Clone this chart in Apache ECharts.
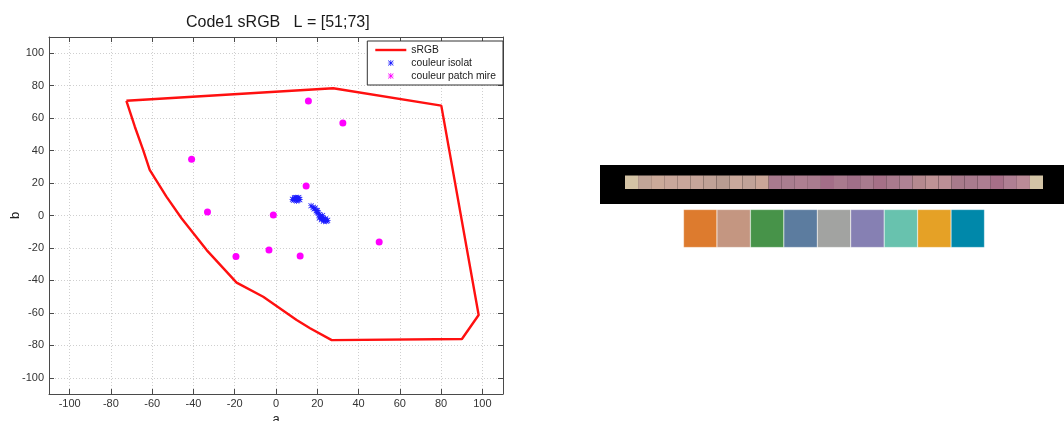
<!DOCTYPE html>
<html><head><meta charset="utf-8">
<script src="https://cdn.jsdelivr.net/npm/echarts@6/dist/echarts.min.js"></script>
<style>html,body{margin:0;padding:0;background:#fff}#c{width:1064px;height:421px}</style>
</head><body><div id="c"></div>
<script>
const titleText = 'Code1 sRGB   L = [51;73]';
const tickValues = [-100, -80, -60, -40, -20, 0, 20, 40, 60, 80, 100];
const legendNames = ['sRGB', 'couleur isolat', 'couleur patch mire'];

// sRGB gamut boundary (a, b)
const srgbGamut = [
  [-72.5, 70.7], [-68.4, 54.7], [-64.4, 40.4], [-61.2, 28.1], [-53.1, 11.6],
  [-45.8, -1.7], [-33.6, -21.3], [-19.1, -41.4], [-6.2, -50.1], [10, -64.4],
  [16.5, -69.5], [27, -76.8], [90.1, -76.1], [98.2, -61.3], [80.1, 67.7],
  [27.7, 78.4], [-72.5, 70.7]
];

// couleur isolat (a, b)
const isolatPoints = [
  [9, 10], [10, 10.5], [10.5, 9.5], [9.5, 11], [11, 10], [8.5, 9.5], [10, 9],
  [11, 11], [9, 10.8], [10.5, 10.7], [8, 10], [11.5, 9.8],
  [17, 6], [18, 5], [18.5, 4], [19.5, 3], [20, 2], [20.5, 1.5], [21, 0.5],
  [21.5, -0.5], [22, -1], [22.5, -1.5], [23, -2], [23.5, -2.5], [24, -3],
  [24.5, -3.5], [25, -3], [22, -2.5], [23, -3.5], [21, -1.5], [24, -2],
  [19, 4.5], [20, 3], [22.5, 0]
];

// couleur patch mire (a, b)
const patchPoints = [
  [15.7, 70.6], [32.4, 57], [-40.9, 34.6], [14.6, 18.2], [-33.2, 2.2],
  [-1.3, 0.3], [-19.4, -25.2], [-3.4, -21.3], [11.7, -25], [50, -16.4]
];

const stripColors = [
  '#D4C3A5', '#C1A598', '#CBAA9A', '#C9A79B', '#C9A69B', '#C6A59A', '#C0A297',
  '#B89C91', '#CAA99C', '#C1A398', '#CAA698',
  '#A87A8E', '#A97D8F', '#AE7F91', '#AA7C8F', '#A36E88', '#A97A8E', '#A06F88',
  '#A87B8E', '#A57087', '#A97A8D', '#AF8294', '#B5898F', '#BF9396', '#BC8F96',
  '#A87A8B', '#A97B8E', '#AD7E92', '#A66F88', '#AF7F93', '#BA8B97',
  '#D3C4A6'
];
const patchColors = ['#DD7B2E', '#C49681', '#479349', '#5C7C9F', '#A2A3A1', '#8680B3', '#68C2AE', '#E5A126', '#0088AA'];

const FONT = 'Liberation Sans, Arial, sans-serif';
const asterisk = 'path://M4.4 0h1.2v10h-1.2z M0 4.4h10v1.2h-10z M1.1 0.25L9.75 8.9L8.9 9.75L0.25 1.1Z M8.9 0.25L9.75 1.1L1.1 9.75L0.25 8.9Z';
const lineIcon = 'path://M0 0h31v2.4h-31z';

const frameAxis = (pos) => ({
  type: 'value', min: -110, max: 110, position: pos, gridIndex: 0,
  axisLine: { show: true, onZero: false, lineStyle: { color: '#4a4a4a', width: 1 } },
  axisTick: { show: true, inside: true, length: 5, customValues: tickValues, lineStyle: { color: '#4a4a4a' } },
  axisLabel: { show: false },
  splitLine: { show: false }
});

const chart = echarts.init(document.getElementById('c'), null, { renderer: 'canvas' });
chart.setOption({
  animation: false,
  backgroundColor: '#fff',
  title: {
    text: titleText, left: 181, top: 10,
    textStyle: { fontFamily: FONT, fontSize: 16, fontWeight: 'normal', color: '#1a1a1a' }
  },
  legend: {
    data: [
      { name: legendNames[0], icon: lineIcon },
      { name: legendNames[1], icon: asterisk },
      { name: legendNames[2], icon: asterisk }
    ],
    orient: 'vertical', right: 561, top: 41,
    itemWidth: 31, itemHeight: 6, itemGap: 3,
    padding: [4, 7, 4, 8],
    backgroundColor: '#fff', borderColor: '#333', borderWidth: 1,
    textStyle: { fontFamily: FONT, fontSize: 10.3, color: '#1a1a1a' }
  },
  grid: [
    { left: 49, right: 561, top: 37, bottom: 27, outerBoundsMode: 'none', containLabel: false },
    { left: 625, width: 418, top: 175.5, height: 13.5, outerBoundsMode: 'none' },
    { left: 683.5, width: 301, top: 209.5, height: 38, outerBoundsMode: 'none' }
  ],
  graphic: [{
    type: 'rect', z: -1, shape: { x: 600, y: 165, width: 464, height: 39 }, style: { fill: '#000' }
  }],
  xAxis: [
    {
      type: 'value', min: -110, max: 110, gridIndex: 0,
      name: 'a', nameLocation: 'middle', nameGap: 19, nameMoveOverlap: false,
      nameTextStyle: { fontFamily: FONT, fontSize: 13, color: '#222' },
      axisLine: { show: true, onZero: false, lineStyle: { color: '#4a4a4a', width: 1 } },
      axisTick: { show: true, inside: true, length: 5, customValues: tickValues, lineStyle: { color: '#4a4a4a' } },
      axisLabel: { customValues: tickValues, margin: 4, fontFamily: FONT, fontSize: 11, color: '#333' },
      splitLine: { show: true, lineStyle: { color: '#cfcfcf', type: [1, 2], width: 1 } }
    },
    frameAxis('top'),
    { type: 'category', gridIndex: 1, data: stripColors.map((c, i) => i), show: false, boundaryGap: true },
    { type: 'category', gridIndex: 2, data: patchColors.map((c, i) => i), show: false, boundaryGap: true }
  ],
  yAxis: [
    {
      type: 'value', min: -110, max: 110, gridIndex: 0,
      name: 'b', nameLocation: 'middle', nameGap: 27, nameRotate: 90, nameMoveOverlap: false,
      nameTextStyle: { fontFamily: FONT, fontSize: 13, color: '#222' },
      axisLine: { show: true, onZero: false, lineStyle: { color: '#4a4a4a', width: 1 } },
      axisTick: { show: true, inside: true, length: 5, customValues: tickValues, lineStyle: { color: '#4a4a4a' } },
      axisLabel: { customValues: tickValues, margin: 5, fontFamily: FONT, fontSize: 11, color: '#333' },
      splitLine: { show: true, lineStyle: { color: '#cfcfcf', type: [1, 2], width: 1 } }
    },
    frameAxis('right'),
    { type: 'value', gridIndex: 1, min: 0, max: 1, show: false },
    { type: 'value', gridIndex: 2, min: 0, max: 1, show: false }
  ],
  series: [
    {
      name: legendNames[0], type: 'line', xAxisIndex: 0, yAxisIndex: 0,
      data: srgbGamut, symbol: 'none', smooth: false,
      lineStyle: { color: '#ff1010', width: 2.4 }, itemStyle: { color: '#ff1010' }, z: 3
    },
    {
      name: legendNames[1], type: 'scatter', xAxisIndex: 0, yAxisIndex: 0,
      data: isolatPoints, symbol: asterisk, symbolSize: 6,
      itemStyle: { color: '#1a1aff', opacity: 1 }, z: 4
    },
    {
      name: legendNames[2], type: 'scatter', xAxisIndex: 0, yAxisIndex: 0,
      data: patchPoints, symbol: 'circle', symbolSize: 7,
      itemStyle: { color: '#ff00ff', opacity: 1 }, z: 5
    },
    {
      type: 'bar', xAxisIndex: 2, yAxisIndex: 2, barCategoryGap: '0%', silent: true,
      data: stripColors.map(c => ({ value: 1, itemStyle: { color: c } }))
    },
    {
      type: 'bar', xAxisIndex: 3, yAxisIndex: 3, barCategoryGap: '0%', silent: true,
      data: patchColors.map(c => ({ value: 1, itemStyle: { color: c, borderColor: 'rgba(255,255,255,0.5)', borderWidth: 0.5 } }))
    }
  ]
});
</script>
</body></html>
